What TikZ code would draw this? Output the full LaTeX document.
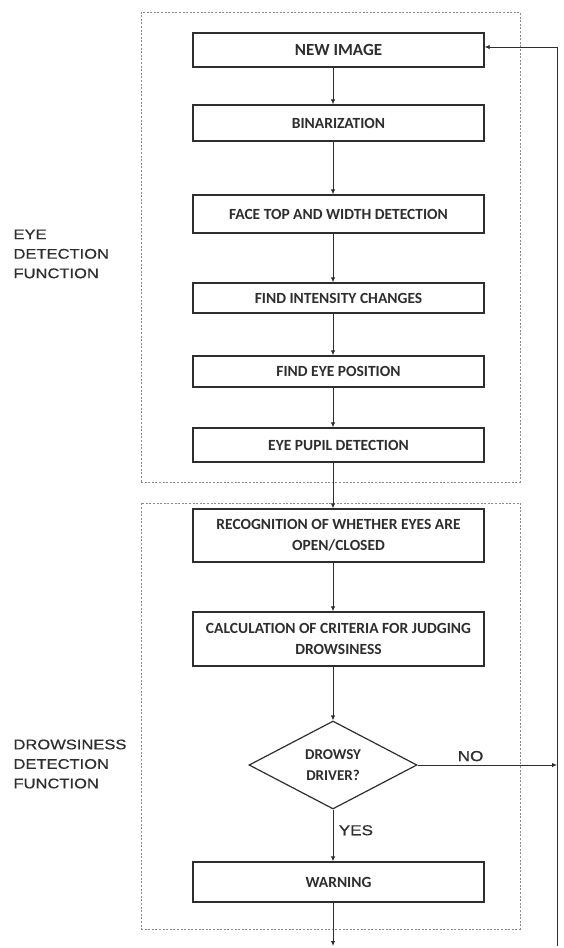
\documentclass[tikz,border=0pt]{standalone}
\usepackage{fontspec}
\setmainfont{Carlito}
\newfontfamily\labfont[FakeStretch=1.18,FakeBold=0.6]{Liberation Sans}
\usetikzlibrary{shapes.geometric,arrows.meta}
\definecolor{ink}{HTML}{2E2E2E}
\definecolor{frm}{HTML}{8A8A8A}
\begin{document}
\begin{tikzpicture}[x=1pt,y=-1pt,
  procbox/.style={draw=ink, line width=1.4pt, minimum width=291pt, inner sep=2pt,
    align=center, text=ink, font=\fontsize{15.5}{21}\selectfont\bfseries},
  decbox/.style={diamond, draw=ink, line width=1.2pt, minimum width=168pt, minimum height=88pt,
    inner sep=0pt, align=center, text=ink, font=\fontsize{15}{21}\selectfont\bfseries},
  frame/.style={draw=frm, line width=1pt, dash pattern=on 2pt off 1.6pt, minimum width=379pt,
    inner sep=0pt},
  arr/.style={draw=ink, line width=0.9pt, -{Latex[length=5pt,width=4.5pt]}},
  lab/.style={anchor=north west, align=left, text=ink, font=\labfont\fontsize{14}{19.5}\selectfont},
  yn/.style={text=ink, font=\labfont\fontsize{14.5}{16}\selectfont}]
\useasboundingbox[fill=white] (0,0) rectangle (563,948);
% group frames
\node[frame, minimum height=470pt] (g1) at (330.5,247) {};
\node[frame, minimum height=426pt] (g2) at (330.5,716) {};
% axis and free ends
\coordinate (ax) at (333,0);
\coordinate (fbtop) at (557,47);
\coordinate (fbbot) at (557,946);
% boxes
\node[procbox, minimum height=34pt, font=\fontsize{17}{21}\selectfont\bfseries] (new) at (338.5,50) {NEW IMAGE};
\node[procbox, minimum height=36pt] (bin) at (338.5,123) {BINARIZATION};
\node[procbox, minimum height=38pt] (face) at (338.5,214) {FACE TOP AND WIDTH DETECTION};
\node[procbox, minimum height=30pt] (inten) at (338.5,298) {FIND INTENSITY CHANGES};
\node[procbox, minimum height=31pt] (epos) at (338.5,371.5) {FIND EYE POSITION};
\node[procbox, minimum height=34pt] (pupil) at (338.5,445) {EYE PUPIL DETECTION};
\node[procbox, minimum height=53pt] (recog) at (338.5,535.5) {RECOGNITION OF WHETHER EYES ARE\\OPEN/CLOSED};
\node[procbox, minimum height=54pt] (calc) at (338.5,639) {CALCULATION OF CRITERIA FOR JUDGING\\DROWSINESS};
\node[decbox] (dec) at (333,765) {DROWSY\\DRIVER?};
\node[procbox, minimum height=40pt] (warn) at (338.5,882) {WARNING};
% side labels
\node[lab] (l1) at (10,226) {EYE\\DETECTION\\FUNCTION};
\node[lab] (l2) at (10,736) {DROWSINESS\\DETECTION\\FUNCTION};
% connectors
\draw[arr] (new.south -| ax) -- (bin.north -| ax);
\draw[arr] (bin.south -| ax) -- (face.north -| ax);
\draw[arr] (face.south -| ax) -- (inten.north -| ax);
\draw[arr] (inten.south -| ax) -- (epos.north -| ax);
\draw[arr] (epos.south -| ax) -- (pupil.north -| ax);
\draw[arr] (pupil.south -| ax) -- (recog.north -| ax);
\draw[arr] (recog.south -| ax) -- (calc.north -| ax);
\draw[arr] (calc.south -| ax) -- (dec.north);
\draw[arr] (dec.south) -- (warn.north -| ax) node[yn, pos=0.4, right=2pt] (yes) {YES};
\draw[arr] (dec.east) -- (dec.east -| fbtop) node[yn, pos=0.38, above=0pt] (no) {NO};
\draw[arr] (warn.south -| ax) -- (ax |- fbbot);
\draw[arr] (fbbot) -- (fbtop) -- (new.east |- fbtop);
\end{tikzpicture}
\end{document}
